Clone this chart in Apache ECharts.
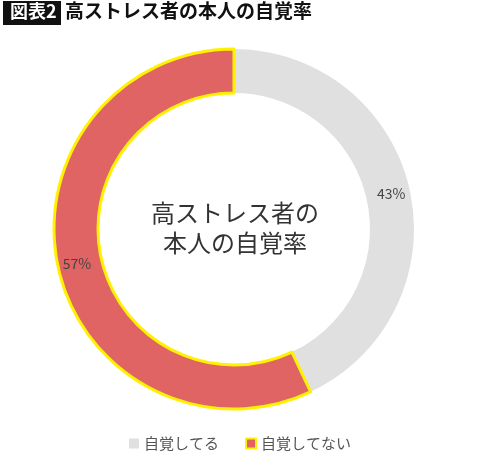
<!DOCTYPE html>
<html><head><meta charset="utf-8">
<script src="https://cdn.jsdelivr.net/npm/echarts@6/dist/echarts.min.js"></script>
<style>html,body{margin:0;padding:0;background:#fff}#c{width:480px;height:460px}</style>
</head><body><div id="c"></div>
<script>
const categories = ['自覚してる', '自覚してない'];
const values = [43, 57];
const colors = ['#e0e0e0', '#e06464'];
const chart = echarts.init(document.getElementById('c'));
const font = '"Noto Sans CJK JP", "Noto Sans", sans-serif';
chart.setOption({
  animation: false,
  graphic: [
    {type:'rect', left:3, top:1, shape:{width:58, height:24}, style:{fill:'#111'}},
    {type:'text', left:10, top:2, style:{text:'図表2', fill:'#fff', font:'bold 18px ' + font}},
    {type:'text', left:65, top:1, style:{text:'高ストレス者の本人の自覚率', fill:'#111', font:'bold 19px ' + font}},
    {type:'text', x:235, y:228, style:{text:'高ストレス者の\n本人の自覚率', fill:'#333', font:'24px ' + font, align:'center', verticalAlign:'middle', lineHeight:30}}
  ],
  legend: {
    bottom: 4, left: 'center', itemWidth: 10, itemHeight: 10, itemGap: 26, icon: 'rect',
    textStyle: {color: '#555', fontSize: 15, fontFamily: font}
  },
  series: [{
    type: 'pie', center: [234, 229], radius: [136, 180], startAngle: 90, clockwise: true,
    label: {show: true, position: 'inside', formatter: '{d}%', color: '#444', fontSize: 14, fontFamily: font},
    labelLine: {show: false},
    emphasis: {disabled: true},
    data: categories.map((n, i) => ({
      name: n, value: values[i],
      itemStyle: i === 1 ? {color: colors[i], borderColor: '#fff200', borderWidth: 3} : {color: colors[i]}
    }))
  }]
});
</script></body></html>
